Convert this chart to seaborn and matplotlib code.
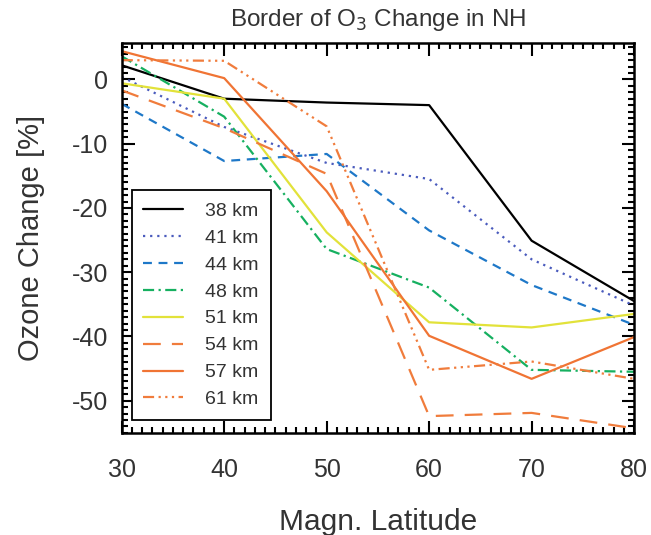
import matplotlib
matplotlib.use("Agg")
import matplotlib.pyplot as plt
from matplotlib.ticker import MultipleLocator
import seaborn as sns
import pandas as pd

# Magnetic latitude grid
latitude = [30, 40, 50, 60, 70, 80]

# Ozone change [%] per altitude
alt_38 = [2.2, -3.0, -3.6, -4.0, -25.1, -34.5]
alt_41 = [0.4, -7.4, -13.0, -15.5, -28.0, -35.2]
alt_44 = [-3.8, -12.7, -11.6, -23.5, -32.0, -38.2]
alt_48 = [3.6, -5.8, -26.4, -32.4, -45.2, -45.5]
alt_51 = [-0.6, -3.0, -23.8, -37.8, -38.6, -36.5]
alt_54 = [-1.7, -7.6, -14.7, -52.4, -51.9, -54.3]
alt_57 = [4.4, 0.2, -17.4, -39.9, -46.6, -40.1]
alt_61 = [3.0, 2.9, -7.3, -45.2, -43.9, -46.6]

labels = ["38 km", "41 km", "44 km", "48 km", "51 km", "54 km", "57 km", "61 km"]
series = [alt_38, alt_41, alt_44, alt_48, alt_51, alt_54, alt_57, alt_61]

colors = ["#000000", "#4a5bbd", "#1e78c8", "#16b060", "#e2e23a",
          "#f07c3c", "#f07434", "#f07c3c"]
dash_styles = ["", (1, 2.2), (4, 3), (5, 2, 1, 2), "",
               (8, 5), "", (5, 2, 1, 2, 1, 2, 1, 2)]

rows = []
for lab, vals in zip(labels, series):
    for lat, v in zip(latitude, vals):
        rows.append({"lat": lat, "change": v, "alt": lab})
df = pd.DataFrame(rows)

sns.set_style("ticks")
plt.rcParams['font.family'] = ['Liberation Sans', 'DejaVu Sans']
plt.rcParams['axes.unicode_minus'] = False

fig = plt.figure(figsize=(6.51, 5.35), dpi=100)
ax = fig.add_axes([0.187, 0.191, 0.787, 0.729])

sns.lineplot(data=df, x="lat", y="change", hue="alt", style="alt",
             palette=dict(zip(labels, colors)),
             dashes=dict(zip(labels, dash_styles)),
             linewidth=1.6, ax=ax)

ax.set_xlim(30, 80)
ax.set_ylim(-55, 5.7)
ax.xaxis.set_major_locator(MultipleLocator(10))
ax.xaxis.set_minor_locator(MultipleLocator(1))
ax.yaxis.set_major_locator(MultipleLocator(10))
ax.yaxis.set_minor_locator(MultipleLocator(1))
ax.tick_params(which="both", direction="in", top=True, right=True,
               colors="black", labelcolor="#333333", width=1.5)
ax.tick_params(which="major", length=9, labelsize=18)
ax.tick_params(axis="x", which="major", pad=18)
ax.tick_params(axis="y", which="major", pad=10)
ax.tick_params(which="minor", length=4.5)
for sp in ax.spines.values():
    sp.set_linewidth(1.8)
    sp.set_color("black")

ax.set_title("Border of O$_3$ Change in NH", fontsize=17.5, color="#333333", pad=12)
ax.set_xlabel("Magn. Latitude", fontsize=21.5, color="#333333", labelpad=19)
ax.set_ylabel("Ozone Change [%]", fontsize=21, color="#333333", labelpad=19)

leg = ax.legend(loc="lower left", bbox_to_anchor=(0.0195, 0.033),
                borderaxespad=0, fontsize=14,
                frameon=True, fancybox=False, handlelength=2.06,
                handletextpad=1.13, borderpad=0.6, labelspacing=0.48,
                labelcolor="#333333")
leg.get_frame().set_edgecolor("black")
leg.get_frame().set_linewidth(1.3)
leg.get_frame().set_alpha(1)

fig.savefig("out.png", dpi=100)
